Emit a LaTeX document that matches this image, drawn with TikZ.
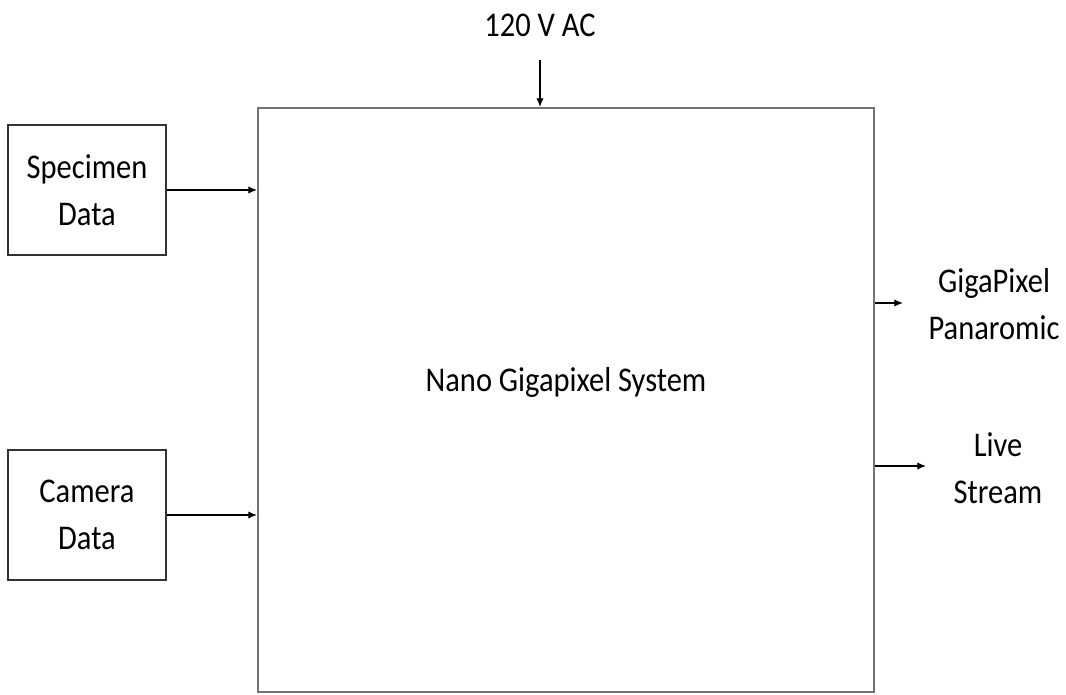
\documentclass[tikz,border=0pt]{standalone}
\usepackage{fontspec}
\setmainfont{Carlito}[FakeStretch=0.88]
\usetikzlibrary{arrows.meta}
\begin{document}
\begin{tikzpicture}[x=0.75pt,y=-0.75pt,
  every node/.style={font=\fontsize{26pt}{35pt}\selectfont, align=center, inner sep=0pt},
  smallbox/.style={draw=black!80, line width=1.3pt, minimum width=118.5pt, minimum height=97pt},
  bigbox/.style={draw=black!55, line width=1.6pt},
  conn/.style={line width=0.9pt, -{Latex[length=6.5pt,width=5.5pt]}}]
\useasboundingbox (0,0) rectangle (1066,694);
\node[bigbox, minimum width=462pt, minimum height=438pt] (sys) at (566,400) {};
\node (sysl) at (566,382) {Nano Gigapixel System};
\node[smallbox] (spec) at (87,190) {Specimen\\Data};
\node[smallbox] (cam) at (87,515) {Camera\\Data};
\node (ac) at (540,25) {120 V AC};
\coordinate (acs) at (540,60);
\draw[conn] (acs) -- (acs |- sys.north);
\draw[conn] (spec.east) -- (spec.east -| sys.west);
\draw[conn] (cam.east) -- (cam.east -| sys.west);
\coordinate (g) at (903,303);
\coordinate (l) at (926,466);
\draw[conn] (g -| sys.east) -- (g);
\draw[conn] (l -| sys.east) -- (l);
\node (gp) at (994,304) {GigaPixel\\Panaromic};
\node (ls) at (998,468) {Live\\Stream};
\end{tikzpicture}
\end{document}
